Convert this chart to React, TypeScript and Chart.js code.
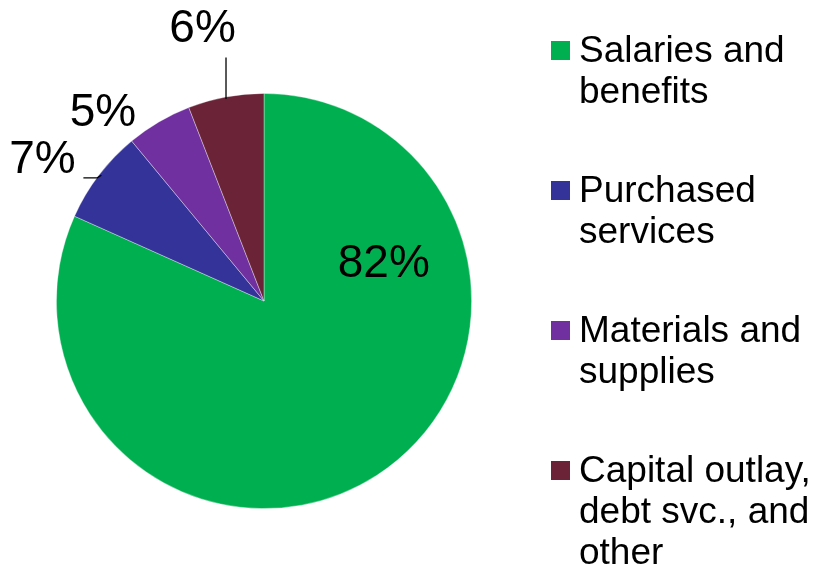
import React, { useEffect, useRef } from "react";
import { Chart, registerables } from "chart.js";

Chart.register(...registerables);

const categories = [
  ["Salaries and", "benefits"],
  ["Purchased", "services"],
  ["Materials and", "supplies"],
  ["Capital outlay,", "debt svc., and", "other"],
];
const values = [81.7, 7.3, 5.1, 5.9];
const percentLabels = ["82%", "7%", "5%", "6%"];
const colors = ["#00B050", "#333399", "#7030A0", "#6B2337"];

// label anchor offsets (in units of radius, from pie centre) - layout only
const labelOffsets = [
  [0.577, -0.115],
  [-1.067, -0.615],
  [-0.776, -0.841],
  [-0.296, -1.25],
];

const FONT = "'Liberation Sans', Arial, sans-serif";

const overlayPlugin = {
  id: "overlay",
  afterDraw(chart: any) {
    const ctx = chart.ctx;
    const meta = chart.getDatasetMeta(0);
    const arc0 = meta.data[0];
    const cx = arc0.x;
    const cy = arc0.y;
    const r = arc0.outerRadius;
    ctx.save();
    // percent labels
    ctx.fillStyle = "#000";
    ctx.font = `46px ${FONT}`;
    ctx.textAlign = "center";
    ctx.textBaseline = "alphabetic";
    percentLabels.forEach((t, i) => {
      const [ox, oy] = labelOffsets[i];
      ctx.fillText(t, cx + ox * r, cy + oy * r);
    });
    // leader lines
    ctx.strokeStyle = "#000";
    ctx.lineWidth = 1.3;
    // 6% leader: vertical to arc
    {
      const x = cx - 0.183 * r;
      const yEdge = cy - Math.sqrt(r * r - (x - cx) * (x - cx));
      ctx.beginPath();
      ctx.moveTo(x, cy - 1.173 * r);
      ctx.lineTo(x, yEdge + 2);
      ctx.stroke();
    }
    // 7% leader: horizontal then to arc
    {
      const y = cy - 0.593 * r;
      const x1 = cx - 0.870 * r;
      const x2 = cx - 0.803 * r;
      const ex = cx - 0.788 * r;
      const ey = cy - Math.sqrt(r * r - (ex - cx) * (ex - cx));
      ctx.beginPath();
      ctx.moveTo(x1, y);
      ctx.lineTo(x2, y);
      ctx.lineTo(ex + 1, ey + 2);
      ctx.stroke();
    }
    // legend
    const lx = 551;
    const box = 19;
    ctx.textAlign = "left";
    ctx.font = `37px ${FONT}`;
    categories.forEach((lines, i) => {
      const base = 62 + 140 * i;
      ctx.fillStyle = colors[i];
      ctx.fillRect(lx, base - 21, box, box);
      ctx.fillStyle = "#000";
      lines.forEach((ln, j) => {
        ctx.fillText(ln, 579, base + 41 * j);
      });
    });
    ctx.restore();
  },
};

export default function App() {
  const ref = useRef<HTMLCanvasElement>(null);
  useEffect(() => {
    if (!ref.current) return;
    const chart = new Chart(ref.current, {
      type: "pie",
      data: {
        labels: categories.map((c) => c.join(" ")),
        datasets: [
          {
            data: values,
            backgroundColor: colors,
            borderColor: "rgba(255,255,255,0.45)",
            borderWidth: 0.8,
          },
        ],
      },
      options: {
        responsive: false,
        animation: false,
        layout: { padding: { left: 56, right: 346, top: 93, bottom: 63 } },
        plugins: {
          legend: { display: false },
          tooltip: { enabled: false },
        },
      },
      plugins: [overlayPlugin],
    });
    return () => chart.destroy();
  }, []);
  return (
    <div style={{ position: "fixed", left: 0, top: 0, width: 818, height: 572, background: "#fff" }}>
      <canvas ref={ref} width={818} height={572} style={{ display: "block" }} />
    </div>
  );
}
